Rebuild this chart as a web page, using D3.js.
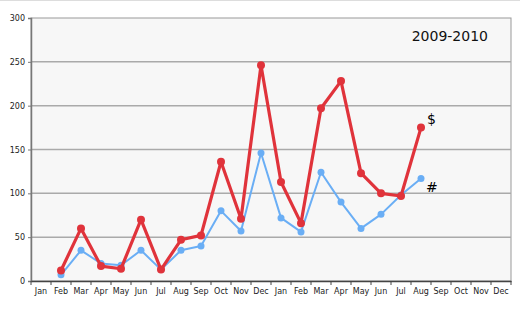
<!DOCTYPE html>
<html>
<head>
<meta charset="utf-8">
<script src="https://cdn.jsdelivr.net/npm/d3@7"></script>
<style>
  body { margin: 0; background: #fff; }
  #chart { width: 520px; height: 310px; }
  .tick text { font-family: Tahoma, "DejaVu Sans", sans-serif; font-size: 8px; fill: #222; }
</style>
</head>
<body>
<div id="chart"></div>
<script>
var months = ['Jan','Feb','Mar','Apr','May','Jun','Jul','Aug','Sep','Oct','Nov','Dec',
              'Jan','Feb','Mar','Apr','May','Jun','Jul','Aug','Sep','Oct','Nov','Dec'];
var dollars = [null,12,60,17,14,70,13,47,52,136,71,246,113,66,197,228,123,100,97,175,null,null,null,null];
var counts  = [null,7,35,20,18,35,13,35,40,80,57,146,72,56,124,90,60,76,98,117,null,null,null,null];
var yTicks = [0,50,100,150,200,250,300];

var width = 520, height = 310,
    plotLeft = 31, plotRight = 511, plotTop = 18, plotBottom = 281;

var svg = d3.select('#chart').append('svg')
    .attr('width', width)
    .attr('height', height);

svg.append('line')
    .attr('x1', 0).attr('x2', width).attr('y1', 0.5).attr('y2', 0.5)
    .attr('stroke', '#ddd');

var idx = d3.range(months.length);

var x = d3.scaleBand().domain(idx).range([plotLeft, plotRight]);
var y = d3.scaleLinear().domain([0, 300]).range([plotBottom, plotTop]);

svg.append('rect')
    .attr('x', plotLeft).attr('y', plotTop)
    .attr('width', plotRight - plotLeft).attr('height', plotBottom - plotTop)
    .attr('fill', '#f7f7f7')
    .attr('stroke', '#999');

// gridlines
svg.append('g').selectAll('line')
    .data(yTicks.filter(function(d){ return d > 0 && d < 300; }))
    .enter().append('line')
    .attr('x1', plotLeft).attr('x2', plotRight)
    .attr('y1', function(d){ return y(d); })
    .attr('y2', function(d){ return y(d); })
    .attr('stroke', '#aaa')
    .attr('stroke-width', 1.5);

// y axis
var yAxis = svg.append('g')
    .attr('transform', 'translate(' + plotLeft + ',0)')
    .call(d3.axisLeft(y).tickValues(yTicks).tickSize(3).tickPadding(3));
yAxis.select('.domain').attr('stroke', '#777').attr('stroke-width', 1.5);
yAxis.selectAll('.tick line').attr('stroke', '#777');

// x axis: ticks at category boundaries, labels centred
var xAxis = svg.append('g')
    .attr('transform', 'translate(0,' + plotBottom + ')')
    .call(d3.axisBottom(x).tickFormat(function(d){ return months[d]; }).tickSize(0).tickPadding(7));
xAxis.select('.domain').attr('stroke', '#444').attr('stroke-width', 1.5);

svg.append('g').selectAll('line')
    .data(d3.range(months.length + 1))
    .enter().append('line')
    .attr('x1', function(d){ return plotLeft + d * x.step(); })
    .attr('x2', function(d){ return plotLeft + d * x.step(); })
    .attr('y1', plotBottom).attr('y2', plotBottom + 4)
    .attr('stroke', '#444');

function drawSeries(values, color, lw, r) {
    var pts = idx.filter(function(i){ return values[i] != null; });
    var line = d3.line()
        .x(function(i){ return x(i) + x.bandwidth() / 2; })
        .y(function(i){ return y(values[i]); });
    svg.append('path')
        .datum(pts)
        .attr('d', line)
        .attr('fill', 'none')
        .attr('stroke', color)
        .attr('stroke-width', lw)
        .attr('stroke-linejoin', 'round');
    svg.append('g').selectAll('circle')
        .data(pts)
        .enter().append('circle')
        .attr('cx', function(i){ return x(i) + x.bandwidth() / 2; })
        .attr('cy', function(i){ return y(values[i]); })
        .attr('r', r)
        .attr('fill', color);
}

drawSeries(counts, '#6aaef5', 2, 3.5);
drawSeries(dollars, '#e0333b', 3.2, 4);

var lastX = x(19) + x.bandwidth() / 2;
svg.append('text')
    .attr('x', lastX + 6).attr('y', y(dollars[19]) - 4)
    .attr('font-family', '"DejaVu Sans", sans-serif')
    .attr('font-size', 14)
    .text('$');
svg.append('text')
    .attr('x', lastX + 5).attr('y', y(counts[19]) + 14)
    .attr('font-family', '"DejaVu Sans", sans-serif')
    .attr('font-size', 14)
    .text('#');

svg.append('text')
    .attr('x', 488).attr('y', 41)
    .attr('text-anchor', 'end')
    .attr('font-family', '"DejaVu Sans", sans-serif')
    .attr('font-size', 14)
    .attr('fill', '#111')
    .text('2009-2010');
</script>
</body>
</html>
